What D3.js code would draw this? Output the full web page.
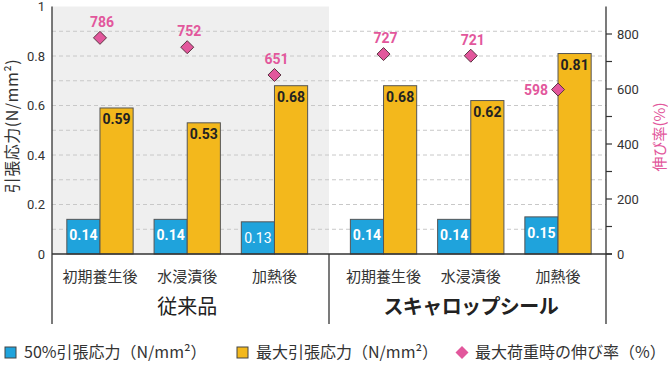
<!DOCTYPE html>
<html><head><meta charset="utf-8">
<script src="https://cdn.jsdelivr.net/npm/d3@7"></script>
<style>
body{margin:0;background:#fff;}
svg{display:block;}
text{font-family:"Noto Sans CJK JP","Noto Sans",sans-serif;}
.num{font-family:Roboto,"Noto Sans",sans-serif;}
</style></head><body>
<svg id="c" width="668" height="366"></svg>
<script>
const groups = ["従来品", "スキャロップシール"];
const conditions = ["初期養生後", "水浸漬後", "加熱後"];
const stress50 = [0.14, 0.14, 0.13, 0.14, 0.14, 0.15];
const stress50Bold = [true, true, false, true, true, true];
const stressMax = [0.59, 0.53, 0.68, 0.68, 0.62, 0.81];
const elongation = [786, 752, 651, 727, 721, 598];
const leftTicks = [0, 0.2, 0.4, 0.6, 0.8, 1];
const gridTicks = [0.1, 0.2, 0.3, 0.4, 0.5, 0.6, 0.7, 0.8, 0.9];
const rightTicks = [0, 100, 200, 300, 400, 500, 600, 700, 800];
const rightLabels = [0, 200, 400, 600, 800];
const legendItems = ["50%引張応力（N/mm²）", "最大引張応力（N/mm²）", "最大荷重時の伸び率（%）"];

const C_BLUE = "#1fa3dc", C_YEL = "#f3b81c", C_PINK = "#e2579c", C_TXT = "#333";
const svg = d3.select("#c");

const pLeft = 52, pRight = 606, pTop = 6.5, base = 254, bottomExt = 324;
const groupGap = 0.25;
const pos = (g, c) => g * (3 + groupGap) + c;
const x = d3.scaleLinear().domain([-0.55, 5.8]).range([pLeft, pRight]);
const step = x(1) - x(0);
const bw = step * 0.38;
const yL = d3.scaleLinear().domain([0, 1]).range([base, pTop]);
const yR = d3.scaleLinear().domain([0, 900]).range([base, pTop]);

const rows = [];
groups.forEach((g, gi) => conditions.forEach((c, ci) => {
  const i = gi * 3 + ci;
  rows.push({g, gi, c, ci, p: pos(gi, ci), s50: stress50[i], b50: stress50Bold[i], smax: stressMax[i], el: elongation[i], side: gi === 1 && ci === 2});
}));

const sep = x((pos(0, 2) + pos(1, 0)) / 2);
svg.append("rect").attr("x", pLeft).attr("y", pTop).attr("width", sep - pLeft).attr("height", base - pTop).attr("fill", "#efefef");

svg.append("g").selectAll("line").data(gridTicks).join("line")
  .attr("x1", pLeft).attr("x2", pRight).attr("y1", d => yL(d)).attr("y2", d => yL(d))
  .attr("stroke", "#c8c8c8").attr("stroke-width", 1).attr("stroke-dasharray", "4,3");

svg.append("g").selectAll("rect").data(rows).join("rect")
  .attr("x", d => x(d.p) - bw).attr("width", bw).attr("y", d => yL(d.s50)).attr("height", d => base - yL(d.s50))
  .attr("fill", C_BLUE).attr("stroke", "#555").attr("stroke-width", 1);
svg.append("g").selectAll("rect").data(rows).join("rect")
  .attr("x", d => x(d.p)).attr("width", bw).attr("y", d => yL(d.smax)).attr("height", d => base - yL(d.smax))
  .attr("fill", C_YEL).attr("stroke", "#555").attr("stroke-width", 1);

svg.append("g").selectAll("text").data(rows).join("text").attr("class", "num")
  .attr("x", d => x(d.p) - bw / 2).attr("y", d => yL(d.s50) + 21)
  .attr("text-anchor", "middle").attr("fill", "#fff").attr("font-size", 14)
  .attr("font-weight", d => d.b50 ? "bold" : "normal").text(d => d.s50.toFixed(2));
svg.append("g").selectAll("text").data(rows).join("text").attr("class", "num")
  .attr("x", d => x(d.p) + bw / 2).attr("y", d => yL(d.smax) + 16)
  .attr("text-anchor", "middle").attr("fill", "#222").attr("font-size", 14)
  .attr("font-weight", "bold").text(d => d.smax.toFixed(2));

svg.append("line").attr("x1", pLeft).attr("x2", pLeft).attr("y1", pTop).attr("y2", bottomExt).attr("stroke", "#333").attr("stroke-width", 1.3);
svg.append("line").attr("x1", pRight).attr("x2", pRight).attr("y1", pTop).attr("y2", bottomExt).attr("stroke", "#333").attr("stroke-width", 1.3);
svg.append("line").attr("x1", pLeft).attr("x2", pRight + 6).attr("y1", base).attr("y2", base).attr("stroke", "#333").attr("stroke-width", 1.3);
svg.append("line").attr("x1", sep).attr("x2", sep).attr("y1", base).attr("y2", bottomExt).attr("stroke", "#333").attr("stroke-width", 1.3);

svg.append("g").selectAll("text").data(leftTicks).join("text").attr("class", "num")
  .attr("x", pLeft - 7).attr("y", d => yL(d) + 4.5).attr("text-anchor", "end")
  .attr("font-size", 13).attr("fill", C_TXT).text(d => d === 0 || d === 1 ? d : d.toFixed(1));
svg.append("g").selectAll("line").data(rightTicks).join("line")
  .attr("x1", pRight).attr("x2", pRight + 6).attr("y1", d => yR(d)).attr("y2", d => yR(d)).attr("stroke", "#333").attr("stroke-width", 1.2);
svg.append("g").selectAll("text").data(rightLabels).join("text").attr("class", "num")
  .attr("x", pRight + 11).attr("y", d => yR(d) + 4.5).attr("text-anchor", "start")
  .attr("font-size", 13).attr("fill", C_TXT).text(d => d);

svg.append("text").attr("transform", "translate(18,126) rotate(-90)").attr("text-anchor", "middle")
  .attr("font-size", 16).attr("letter-spacing", 0.5).attr("fill", C_TXT).text("引張応力(N/mm²)");
svg.append("text").attr("transform", "translate(665,137) rotate(-90)").attr("text-anchor", "middle")
  .attr("font-size", 15).attr("fill", C_PINK).text("伸び率(%)");

const dsz = 6.5;
svg.append("g").selectAll("path").data(rows).join("path")
  .attr("d", d => { const cx = x(d.p), cy = yR(d.el); return `M${cx},${cy - dsz}L${cx + dsz},${cy}L${cx},${cy + dsz}L${cx - dsz},${cy}Z`; })
  .attr("fill", C_PINK).attr("stroke", "#5a3340").attr("stroke-width", 1);
svg.append("g").selectAll("text").data(rows).join("text").attr("class", "num")
  .attr("x", d => d.side ? x(d.p) - 10 : x(d.p) + 2)
  .attr("y", d => d.side ? yR(d.el) + 5 : yR(d.el) - 11)
  .attr("text-anchor", d => d.side ? "end" : "middle")
  .attr("font-size", 14).attr("font-weight", "bold").attr("fill", C_PINK).text(d => d.el);

svg.append("g").selectAll("text").data(rows).join("text")
  .attr("x", d => x(d.p)).attr("y", 282).attr("text-anchor", "middle")
  .attr("font-size", 15).attr("fill", C_TXT).text(d => d.c);
svg.append("g").selectAll("text").data(groups).join("text")
  .attr("x", (d, i) => x(pos(i, 1))).attr("y", 314).attr("text-anchor", "middle")
  .attr("font-size", 20).attr("font-weight", (d, i) => i === 1 ? "bold" : "normal")
  .attr("letter-spacing", (d, i) => i === 1 ? -0.6 : 0).attr("fill", "#222").text(d => d);

const lx = [5, 237, 456];
const lg = svg.append("g");
legendItems.forEach((t, i) => {
  if (i < 2) {
    lg.append("rect").attr("x", lx[i]).attr("y", 347).attr("width", 11).attr("height", 11)
      .attr("fill", i === 0 ? C_BLUE : C_YEL).attr("stroke", "#444").attr("stroke-width", 1);
  } else {
    const cx = lx[i] + 6, cy = 352.5, s = 6.5;
    lg.append("path").attr("d", `M${cx},${cy - s}L${cx + s},${cy}L${cx},${cy + s}L${cx - s},${cy}Z`).attr("fill", C_PINK);
  }
  lg.append("text").attr("x", lx[i] + 19).attr("y", 358).attr("font-size", 16).attr("fill", C_TXT).text(t);
});
</script></body></html>
